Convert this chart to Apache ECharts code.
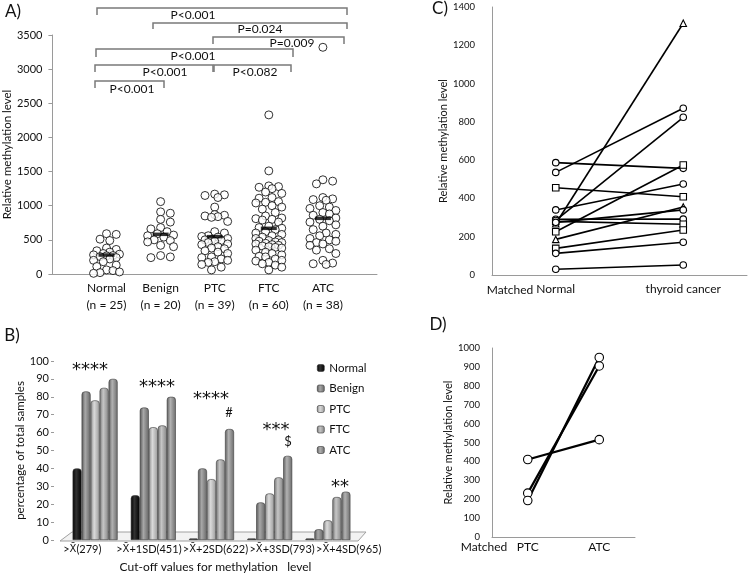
<!DOCTYPE html>
<html><head><meta charset="utf-8">
<script src="https://cdn.jsdelivr.net/npm/echarts@6/dist/echarts.min.js"></script>
<style>html,body{margin:0;padding:0;background:#fff}#c{width:750px;height:578px}</style>
</head><body><div id="c"></div>
<script>
// ---------- Panel A data ----------
const A_cats = ['Normal', 'Benign', 'PTC', 'FTC', 'ATC'];
const A_counts = ['(n = 25)', '(n = 20)', '(n = 39)', '(n = 60)', '(n = 38)'];
const A_normal = [590, 580, 510, 490, 380, 360, 340, 320, 300, 290, 280, 270, 265, 255, 240, 220, 200, 180, 130, 110, 60, 50, 30, 20, 10];
const A_benign = [1060, 910, 890, 800, 760, 680, 660, 620, 590, 570, 560, 540, 500, 490, 470, 420, 400, 270, 250, 240];
const A_ptc = [1170, 1160, 1150, 1120, 980, 870, 860, 850, 840, 830, 770, 620, 600, 560, 550, 540, 520, 500, 500, 490, 480, 460, 440, 430, 400, 380, 370, 340, 320, 300, 250, 240, 220, 200, 180, 170, 140, 100, 60];
const A_ftc = [2330, 1510, 1290, 1280, 1270, 1250, 1200, 1180, 1120, 1110, 1060, 1050, 1040, 1000, 980, 950, 900, 850, 820, 810, 800, 790, 760, 700, 680, 670, 650, 620, 600, 580, 560, 540, 520, 500, 490, 480, 470, 460, 450, 440, 430, 420, 410, 400, 390, 380, 350, 320, 300, 280, 260, 250, 220, 200, 190, 170, 150, 130, 100, 60];
const A_atc = [3320, 1380, 1360, 1320, 1120, 1100, 1090, 1080, 1000, 980, 960, 930, 900, 880, 860, 820, 800, 780, 760, 720, 700, 650, 600, 580, 560, 520, 500, 480, 460, 440, 420, 370, 350, 300, 200, 160, 150, 140];
const A_centers = [278, 581, 547, 669, 815];
const A_yTicks = [0, 500, 1000, 1500, 2000, 2500, 3000, 3500];
const A_pvals = ['P<0.001', 'P=0.024', 'P=0.009', 'P<0.001', 'P<0.001', 'P<0.082', 'P<0.001'];

// ---------- Panel B data ----------
const B_cats = ['>X\u0304(279)', '>X\u0304+1SD(451)', '>X\u0304+2SD(622)', '>X\u0304+3SD(793)', '>X\u0304+4SD(965)'];
const B_groups = ['Normal', 'Benign', 'PTC', 'FTC', 'ATC'];
const B_normal = [40, 25, 0, 0, 0];
const B_benign = [83, 74, 40, 21, 6];
const B_ptc = [78, 63, 34, 26, 11];
const B_ftc = [85, 64, 45, 35, 24];
const B_atc = [90, 80, 62, 47, 27];
const B_marks = ['****', '****', '****', '***', '**'];
const B_marks2 = ['', '', '#', '$', ''];

// ---------- Panel C data ----------
const C_xLabels = ['Matched', 'Normal', 'thyroid cancer'];
const C_normal = [587, 536, 456, 340, 291, 280, 268, 285, 226, 186, 275, 139, 113, 30];
const C_cancer = [557, 871, 409, 475, 292, 265, 1315, 824, 575, 355, 340, 235, 171, 52];
const C_shape = ['circle', 'circle', 'rect', 'circle', 'circle', 'rect', 'triangle', 'circle', 'rect', 'triangle', 'circle', 'rect', 'circle', 'circle'];

// ---------- Panel D data ----------
const D_xLabels = ['Matched', 'PTC', 'ATC'];
const D_ptc = [410, 232, 193];
const D_atc = [515, 905, 950];

const FONT = 'Lato';
const INK = '#111';
const AXC = '#9a9a9a';

// beeswarm placement for panel A (pixel scale of grid A)
const PXY = 239 / 3500, PXX = 326 / 6;
function swarm(vals, ci) {
  const sorted = vals.slice().sort((a, b) => b - a);
  const placed = [], out = [];
  const D = 7.5, MAXO = 13, STEP = 3.25;
  for (const v of sorted) {
    const y = v * PXY;
    let bestOff = 0, bestScore = -1, done = false;
    for (let k = 0; k * STEP <= MAXO && !done; k++) {
      const offs = k === 0 ? [0] : [k * STEP, -k * STEP];
      for (const o of offs) {
        let md = Infinity;
        for (const p of placed) { const d = Math.hypot(p[0] - o, p[1] - y); if (d < md) md = d; }
        if (md >= D) { bestOff = o; done = true; break; }
        if (md > bestScore) { bestScore = md; bestOff = o; }
      }
    }
    placed.push([bestOff, y]);
    out.push([ci + bestOff / PXX, v]);
  }
  return out;
}
const A_all = [A_normal, A_benign, A_ptc, A_ftc, A_atc];
const A_points = [];
A_all.forEach((arr, i) => swarm(arr, i + 1).forEach(p => A_points.push(p)));

function grad(c0, c1, c2) {
  return new echarts.graphic.LinearGradient(0, 0, 1, 0, [
    { offset: 0, color: c0 }, { offset: 0.4, color: c1 }, { offset: 1, color: c2 }]);
}
const B_vals = [B_normal, B_benign, B_ptc, B_ftc, B_atc];
const B_colors = [
  grad('#000', '#333', '#000'),
  grad('#555', '#a8a8a8', '#666'),
  grad('#8a8a8a', '#dadada', '#9a9a9a'),
  grad('#747474', '#c6c6c6', '#858585'),
  grad('#5c5c5c', '#b2b2b2', '#6c6c6c')
];

const series = [];
series.push({
  type: 'scatter', name: 'pointsA', xAxisIndex: 0, yAxisIndex: 0,
  data: A_points, symbol: 'circle', symbolSize: 8,
  itemStyle: { color: '#fff', borderColor: '#000', borderWidth: 1 }, z: 3
});
series.push({
  type: 'scatter', name: 'centerA', xAxisIndex: 0, yAxisIndex: 0,
  data: A_centers.map((v, i) => [i + 1, v]), symbol: 'rect', symbolSize: [16, 3.5],
  itemStyle: { color: '#000' }, z: 5
});
B_groups.forEach((g, i) => {
  series.push({
    type: 'bar', name: g, xAxisIndex: 1, yAxisIndex: 1, data: B_vals[i],
    barWidth: 9, barGap: '0%', barMinHeight: i === 0 ? 1.5 : 0,
    itemStyle: { color: B_colors[i], borderColor: '#3a3a3a', borderWidth: 0.6, borderRadius: [3, 3, 0, 0] },
    z: 3
  });
});
C_normal.forEach((v, i) => {
  series.push({
    type: 'line', name: 'C' + i, xAxisIndex: 3, yAxisIndex: 3,
    data: [[1, v], [3, C_cancer[i]]], symbol: C_shape[i], symbolSize: 6.5, showSymbol: true,
    lineStyle: { color: '#000', width: 1.6 },
    itemStyle: { color: '#fff', borderColor: '#000', borderWidth: 1.1 }, z: 3
  });
});
D_ptc.forEach((v, i) => {
  series.push({
    type: 'line', name: 'D' + i, xAxisIndex: 4, yAxisIndex: 4,
    data: [[1, v], [3, D_atc[i]]], symbol: 'circle', symbolSize: 8.5,
    lineStyle: { color: '#000', width: 2.2 },
    itemStyle: { color: '#fff', borderColor: '#000', borderWidth: 1.1 }, z: 3
  });
});

// annotations
const graphic = [];
function txt(x, y, s, size, extra) {
  graphic.push(Object.assign({ type: 'text', x: x, y: y, z: 10,
    style: Object.assign({ text: s, font: size + 'px ' + FONT, fill: INK, textAlign: 'center', textVerticalAlign: 'middle' }, extra || {}) }));
}
txt(13, 12, 'A)', 17);
txt(12, 336, 'B)', 17);
txt(440, 9, 'C)', 17);
txt(438, 325, 'D)', 17);
// brackets in panel A
const brackets = [
  [97, 347, 8, 15, 193, 15],
  [153, 347, 23, 29, 260, 29],
  [213, 344, 37, 44, 292, 43],
  [96, 293, 49, 57, 193, 56],
  [95, 213, 65, 72, 165, 72],
  [214, 291, 65, 72, 255, 72],
  [95, 164, 81, 88, 132, 89]
];
brackets.forEach((b, i) => {
  graphic.push({ type: 'polyline', z: 4, shape: { points: [[b[0], b[3]], [b[0], b[2]], [b[1], b[2]], [b[1], b[3]]] },
    style: { stroke: '#7a7a7a', lineWidth: 1.5, fill: null } });
  txt(b[4], b[5], A_pvals[i], 12);
});
// floor of panel B
graphic.push({ type: 'polygon', z: 1, shape: { points: [[60, 541], [72, 532], [366, 532], [358, 541]] },
  style: { fill: '#f2f2f2', stroke: '#a0a0a0', lineWidth: 1 } });
// star marks panel B
const starPos = [[90, 370], [157, 387], [211, 399], [276, 430], [340, 487]];
B_marks.forEach((s, i) => {
  graphic.push({ type: 'text', x: starPos[i][0], y: starPos[i][1], z: 10,
    style: { text: s, font: '18px DejaVu Sans', fill: INK, textAlign: 'center', textVerticalAlign: 'middle' } });
});
const mark2Pos = [null, null, [229, 413], [288, 442], null];
B_marks2.forEach((s, i) => { if (s) txt(mark2Pos[i][0], mark2Pos[i][1], s, 13); });
// "Matched" leading labels
txt(510, 290, C_xLabels[0], 12);
txt(484, 547, D_xLabels[0], 12);

const axisBase = {
  axisLine: { show: true, lineStyle: { color: AXC, width: 1 } },
  axisTick: { show: false },
  splitLine: { show: false },
  axisLabel: { color: INK, fontFamily: FONT, formatter: v => String(v) }
};
function ax(o) {
  const base = { axisLine: { show: true, lineStyle: { color: AXC, width: 1 } }, axisTick: { show: false },
    splitLine: { show: false }, axisLabel: { color: INK, fontFamily: FONT, formatter: v => String(v) } };
  return echarts.util.merge(base, o, true);
}

const option = {
  animation: false,
  backgroundColor: '#fff',
  textStyle: { fontFamily: FONT, color: INK },
  grid: [
    { left: 51, top: 35, width: 326, height: 239 },
    { left: 66, top: 361, width: 291, height: 179 },
    { left: 49, top: 361, width: 333, height: 179 },
    { left: 492, top: 7, width: 255, height: 268 },
    { left: 492, top: 348, width: 143, height: 189 }
  ],
  legend: {
    data: B_groups, orient: 'vertical', left: 312, top: 357, itemGap: 8.5,
    itemWidth: 7, itemHeight: 7, textStyle: { fontSize: 11.5, color: INK, fontFamily: FONT },
    itemStyle: { borderColor: '#333', borderWidth: 0.6 }, selectedMode: false
  },
  xAxis: [
    ax({ type: 'value', gridIndex: 0, min: 0, max: 6, interval: 1,
      axisLabel: { fontSize: 12, lineHeight: 17, margin: 6, showMinLabel: false, showMaxLabel: false,
        formatter: v => (v >= 1 && v <= 5) ? A_cats[v - 1] + '\n' + A_counts[v - 1] : '' } }),
    ax({ type: 'category', gridIndex: 1, data: B_cats, axisLine: { show: false }, axisLabel: { show: false } }),
    ax({ type: 'category', gridIndex: 2, data: B_cats, axisLine: { show: false },
      axisLabel: { fontSize: 11, interval: 0, margin: 4,
        formatter: v => v.replace('X\u0304', '{x|X\u0304}'),
        rich: { x: { fontFamily: 'DejaVu Sans', fontSize: 10, color: INK } } },
      name: 'Cut-off values for methylation   level', nameLocation: 'middle', nameGap: 21,
      nameTextStyle: { fontSize: 12, color: INK, fontFamily: FONT } }),
    ax({ type: 'value', gridIndex: 3, min: 0, max: 4, interval: 1,
      axisLabel: { fontSize: 12, margin: 8, formatter: v => v === 1 ? C_xLabels[1] : (v === 3 ? C_xLabels[2] : '') } }),
    ax({ type: 'value', gridIndex: 4, min: 0, max: 4, interval: 1,
      axisLabel: { fontSize: 12, margin: 4, formatter: v => v === 1 ? D_xLabels[1] : (v === 3 ? D_xLabels[2] : '') } })
  ],
  yAxis: [
    ax({ type: 'value', gridIndex: 0, min: A_yTicks[0], max: A_yTicks[A_yTicks.length - 1], interval: 500,
      axisTick: { show: true, length: 4, lineStyle: { color: AXC } },
      axisLabel: { fontSize: 11, margin: 10 },
      name: 'Relative methylation level', nameLocation: 'middle', nameGap: 34,
      nameTextStyle: { fontSize: 11.5, color: INK, fontFamily: FONT } }),
    ax({ type: 'value', gridIndex: 1, min: 0, max: 100, interval: 10, offset: 12,
      axisLine: { show: false },
      axisTick: { show: true, length: 3, lineStyle: { color: AXC } },
      axisLabel: { fontSize: 11, margin: 5 },
      name: 'percentage of total samples', nameLocation: 'middle', nameGap: 28,
      nameTextStyle: { fontSize: 11.5, color: INK, fontFamily: FONT } }),
    { type: 'value', gridIndex: 2, show: false, min: 0, max: 100 },
    ax({ type: 'value', gridIndex: 3, min: 0, max: 1400, interval: 200,
      axisLabel: { fontSize: 9.5, margin: 17 },
      name: 'Relative methylation level', nameLocation: 'middle', nameGap: 37,
      nameTextStyle: { fontSize: 11, color: INK, fontFamily: FONT } }),
    ax({ type: 'value', gridIndex: 4, min: 0, max: 1000, interval: 100,
      axisLabel: { fontSize: 9.5, margin: 12 },
      name: 'Relative methylation level', nameLocation: 'middle', nameGap: 31,
      nameTextStyle: { fontSize: 11, color: INK, fontFamily: FONT } })
  ],
  series: series,
  graphic: graphic
};
const chart = echarts.init(document.getElementById('c'), null, { renderer: 'canvas' });
chart.setOption(option);
</script></body></html>
